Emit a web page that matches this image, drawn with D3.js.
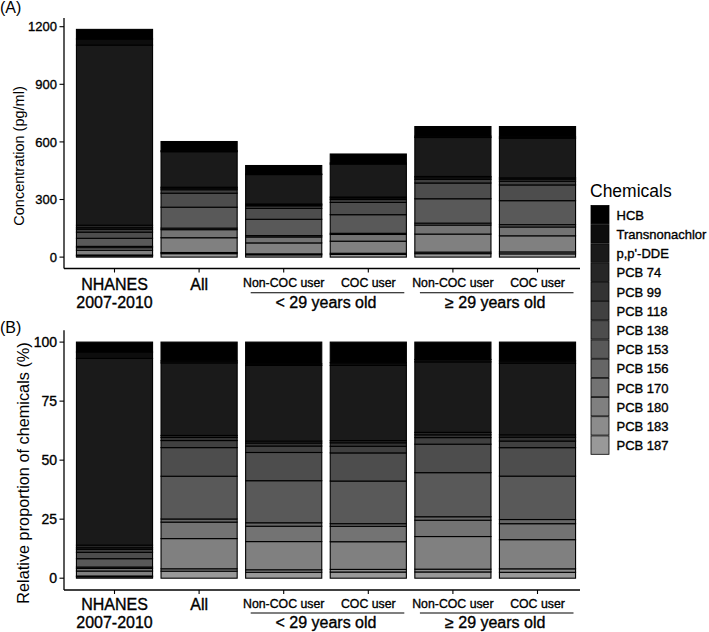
<!DOCTYPE html>
<html><head><meta charset="utf-8">
<script src="https://cdn.jsdelivr.net/npm/d3@7"></script>
<style>body{margin:0;background:#fff}svg{display:block}text{font-family:"Liberation Sans",Arial,sans-serif;fill:#000}.h{stroke:#000;stroke-width:0.35px}</style>
</head><body>
<svg id="c" width="709" height="632"></svg>
<script>
// ---- data ----
const groups = ["NHANES", "All", "Non-COC <29", "COC <29", "Non-COC >=29", "COC >=29"];
const groupLabels = [["NHANES", "2007-2010"], ["All"], ["Non-COC user"], ["COC user"], ["Non-COC user"], ["COC user"]];
const ageGroups = [{label: "< 29 years old", from: 2, to: 3}, {label: "≥ 29 years old", from: 4, to: 5}];
const chemicals = ["HCB", "Transnonachlor", "p,p'-DDE", "PCB 74", "PCB 99", "PCB 118", "PCB 138", "PCB 153", "PCB 156", "PCB 170", "PCB 180", "PCB 183", "PCB 187"];
// concentrations (pg/ml), one value per group
const HCB            = [50, 48, 44, 47, 50, 54];
const Transnonachlor = [32, 5, 3, 6, 7, 7];
const ppDDE          = [938, 185, 153, 171, 203, 206];
const PCB74          = [13, 5, 4, 5, 7, 7];
const PCB99          = [8, 8, 6, 8, 8, 11];
const PCB118         = [15, 18, 13, 15, 19, 19];
const PCB138         = [32, 73, 57, 64, 82, 82];
const PCB153         = [42, 109, 85, 97, 127, 125];
const PCB156         = [7, 8, 7, 6, 10, 12];
const PCB170         = [13, 42, 31, 35, 47, 46];
const PCB180         = [25, 77, 57, 63, 94, 84];
const PCB183         = [4, 6, 5, 6, 8, 10];
const PCB187         = [7, 18, 12, 14, 18, 17];
const ticksA = [0, 300, 600, 900, 1200];
const ticksB = [0, 25, 50, 75, 100];

const series = [HCB, Transnonachlor, ppDDE, PCB74, PCB99, PCB118, PCB138, PCB153, PCB156, PCB170, PCB180, PCB183, PCB187];

// ---- build tables ----
const rowsA = groups.map((g, gi) => {
  const r = {group: gi};
  chemicals.forEach((c, ci) => r[c] = series[ci][gi]);
  return r;
});
const rowsB = rowsA.map(r => {
  const tot = d3.sum(chemicals, c => r[c]);
  const o = {group: r.group};
  chemicals.forEach(c => o[c] = r[c] / tot * 100);
  return o;
});
const stackKeys = chemicals.slice().reverse(); // HCB on top
const stack = d3.stack().keys(stackKeys);

const color = d3.scaleOrdinal().domain(chemicals)
  .range(chemicals.map((c, i) => d3.rgb(i * 0.05 * 255, i * 0.05 * 255, i * 0.05 * 255).formatHex()));

const svg = d3.select("#c");
svg.append("rect").attr("width", 709).attr("height", 632).attr("fill", "#fff");

const x = d3.scaleBand().domain(d3.range(groups.length)).range([72.2, 579.8]).paddingInner(0.1).paddingOuter(0.05);
const maxTot = d3.max(rowsA, r => d3.sum(chemicals, c => r[c]));

function panel(rows, y, ticks, axisY, title, titleX, titleY, titleSize, tag, tagY, tickSize, labOff) {
  const g = svg.append("g");
  const layers = stack(rows);
  g.selectAll("g.layer").data(layers).join("g")
    .attr("fill", d => color(d.key))
    .selectAll("rect").data(d => d).join("rect")
    .attr("x", d => x(d.data.group))
    .attr("width", x.bandwidth())
    .attr("y", d => y(d[1]))
    .attr("height", d => y(d[0]) - y(d[1]))
    .attr("stroke", "#000").attr("stroke-width", 1.1);
  const top = y.range()[1];
  g.append("line").attr("x1", 64).attr("x2", 64).attr("y1", top).attr("y2", axisY).attr("stroke", "#000").attr("stroke-width", 1.3);
  g.append("line").attr("x1", 64).attr("x2", 580).attr("y1", axisY).attr("y2", axisY).attr("stroke", "#000").attr("stroke-width", 1.3);
  ticks.forEach(t => {
    g.append("line").attr("x1", 59.5).attr("x2", 64).attr("y1", y(t)).attr("y2", y(t)).attr("stroke", "#000").attr("stroke-width", 1.1);
    g.append("text").attr("class", "h").attr("x", 57).attr("y", y(t)).attr("dy", "0.36em").attr("text-anchor", "end")
      .attr("font-size", tickSize).text(t);
  });
  groups.forEach((gr, gi) => {
    const cx = x(gi) + x.bandwidth() / 2;
    g.append("line").attr("x1", cx).attr("x2", cx).attr("y1", axisY).attr("y2", axisY + 4).attr("stroke", "#000").attr("stroke-width", 1.1);
    const lab = groupLabels[gi];
    if (gi < 2) {
      lab.forEach((l, li) => g.append("text").attr("class", "h").attr("x", cx).attr("y", axisY + labOff[0] + li * 18).attr("text-anchor", "middle").attr("font-size", 16).text(l));
    } else {
      g.append("text").attr("class", "h").attr("x", cx).attr("y", axisY + labOff[1]).attr("text-anchor", "middle").attr("font-size", 12.3).text(lab[0]);
    }
  });
  ageGroups.forEach(a => {
    const c1 = x(a.from) + x.bandwidth() / 2, c2 = x(a.to) + x.bandwidth() / 2;
    g.append("line").attr("x1", c1 - 33).attr("x2", c2 + 36).attr("y1", axisY + labOff[2]).attr("y2", axisY + labOff[2]).attr("stroke", "#000").attr("stroke-width", 1.1);
    g.append("text").attr("class", "h").attr("x", (c1 + c2) / 2).attr("y", axisY + labOff[3]).attr("text-anchor", "middle").attr("font-size", 16).text(a.label);
  });
  g.append("text").attr("transform", `translate(${titleX},${titleY}) rotate(-90)`).attr("text-anchor", "middle").attr("font-size", titleSize).text(title);
  svg.append("text").attr("x", 0).attr("y", tagY).attr("font-size", 16).text(tag);
}

const yA = d3.scaleLinear().domain([-0.05 * maxTot, 1.05 * maxTot]).range([268.5, 18]);
const yB = d3.scaleLinear().domain([-5, 105]).range([590, 330.3]);
panel(rowsA, yA, ticksA, 268.5, "Concentration (pg/ml)", 24, 156, 14.5, "(A)", 13, 13, [21.5, 18.8, 24.3, 39.6]);
panel(rowsB, yB, ticksB, 590, "Relative proportion of chemicals (%)", 29, 473, 16.3, "(B)", 333, 14, [20.3, 17.5, 23, 38.3]);

// legend
const lg = svg.append("g");
lg.append("text").attr("x", 590).attr("y", 197).attr("font-size", 17.5).text("Chemicals");
chemicals.forEach((c, i) => {
  const yy = 205.5 + i * 19.2;
  lg.append("rect").attr("x", 591).attr("y", yy).attr("width", 18).attr("height", 18.4)
    .attr("fill", color(c)).attr("stroke", "#000").attr("stroke-width", 0.8);
  lg.append("text").attr("class", "h").attr("x", 616.5).attr("y", yy + 9.6).attr("dy", "0.36em").attr("font-size", 13).text(c);
});
</script>
</body></html>
